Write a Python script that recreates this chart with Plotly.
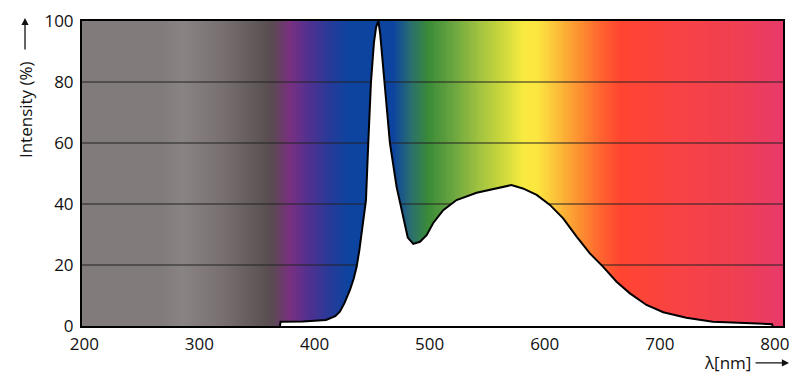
import numpy as np
import plotly.graph_objects as go

# ---- data ----
wavelength_nm = [370, 370.5, 390, 410, 418, 422, 426, 430.8, 434, 436.6, 439, 441, 443, 444.7,
                 446.7, 449, 451.6, 453.5, 455.5, 457, 458.3, 461, 465.5, 471.3, 477, 481, 485.8,
                 491.6, 497.4, 503, 511.8, 523.4, 540.8, 558, 571, 581, 593, 604.5, 616, 627.7,
                 639.2, 650.8, 662.4, 674, 688.4, 703, 723, 746, 775, 795, 797.5, 798]
intensity_pct = [0, 1.4, 1.5, 2.0, 3.2, 4.7, 7.5, 11.8, 15.5, 19.4, 25, 30.4, 36, 41.3,
                 60, 79.7, 92.8, 98, 100, 96, 90.5, 79.7, 60, 45.6, 35.7, 29, 26.9,
                 27.6, 29.8, 33.7, 38, 41.3, 43.7, 45.1, 46.2, 45.1, 43, 39.7, 35.3, 29.3,
                 23.8, 19.4, 14.5, 10.7, 6.9, 4.5, 2.7, 1.4, 0.9, 0.6, 0.6, 0]

x_ticks = [200, 300, 400, 500, 600, 700, 800]
y_ticks = [0, 20, 40, 60, 80, 100]
grid_levels = [20, 40, 60, 80]
x_range = [198, 807]
y_range = [0, 100]

# background spectrum colours (wavelength nm, colour)
spectrum_stops = [
    (198, "#827b7b"), (267, "#827b7b"), (285, "#8a8383"), (320, "#787070"),
    (354, "#5c5454"), (363, "#5a4a52"), (378, "#7a3080"), (395, "#503090"),
    (412, "#283a98"), (430, "#0c44a0"), (468, "#0c44a0"), (483, "#2a6e70"),
    (498, "#3a8a38"), (520, "#6aa640"), (544, "#a4c440"), (561, "#c8d63c"),
    (581, "#f8ea40"), (593, "#fce640"), (613, "#fcb838"), (630, "#fd9030"),
    (648, "#ff6430"), (665, "#ff4530"), (717, "#f84245"), (761, "#f04050"),
    (807, "#e83a6a"),
]

lo, hi = x_range
colorscale = [[(w - lo) / (hi - lo), c] for w, c in spectrum_stops]

bg_x = np.linspace(lo, hi, 400)
bg_z = [bg_x, bg_x]

fig = go.Figure()
fig.add_trace(go.Heatmap(
    x=bg_x, y=y_range, z=bg_z, colorscale=colorscale, zmin=lo, zmax=hi,
    showscale=False, zsmooth="best", hoverinfo="skip"))

for g in grid_levels:
    fig.add_trace(go.Scatter(x=x_range, y=[g, g], mode="lines",
                             line=dict(color="#222222", width=1.2),
                             hoverinfo="skip", showlegend=False))

fig.add_trace(go.Scatter(x=wavelength_nm, y=intensity_pct, mode="lines",
                         fill="tozeroy", fillcolor="white",
                         line=dict(color="black", width=2),
                         hoverinfo="skip", showlegend=False))

font = dict(family="Open Sans, Noto Sans, sans-serif", size=17, color="#111111")

# the page body adds an 8px offset, so the figure is sized 8px smaller
fig.update_layout(
    width=792, height=373,
    margin=dict(l=74, r=17, t=13, b=55, autoexpand=False),
    paper_bgcolor="white", plot_bgcolor="white",
    showlegend=False, font=font,
    xaxis=dict(range=x_range, tickvals=x_ticks, showgrid=False, zeroline=False,
               showline=True, linecolor="black", linewidth=2, mirror=True,
               ticks="", tickfont=font, automargin=False, ticklabelstandoff=2),
    yaxis=dict(range=y_range, tickvals=y_ticks, showgrid=False, zeroline=False,
               showline=True, linecolor="black", linewidth=2, mirror=True,
               ticks="", tickfont=font, automargin=False, ticklabelstandoff=3),
    annotations=[
        dict(text="Intensity (%)", textangle=-90, xref="paper", yref="paper",
             x=-0.0813, y=0.708, xanchor="center", yanchor="middle", showarrow=False,
             font=font),
        dict(text="", xref="paper", yref="paper", x=-0.0813, y=1.01,
             showarrow=True, ax=0, ay=33, arrowhead=2, arrowsize=1.1, arrowwidth=1.3,
             arrowcolor="#111111"),
        dict(text="\u03bb[nm]", xref="paper", yref="paper",
             x=0.9215, y=-0.121, xanchor="center", yanchor="middle", showarrow=False,
             font=font),
        dict(text="", xref="paper", yref="paper", x=1.0086, y=-0.121,
             showarrow=True, ax=-35, ay=0, arrowhead=2, arrowsize=1.1, arrowwidth=1.3,
             arrowcolor="#111111"),
    ],
)

fig.write_html("out.html")
